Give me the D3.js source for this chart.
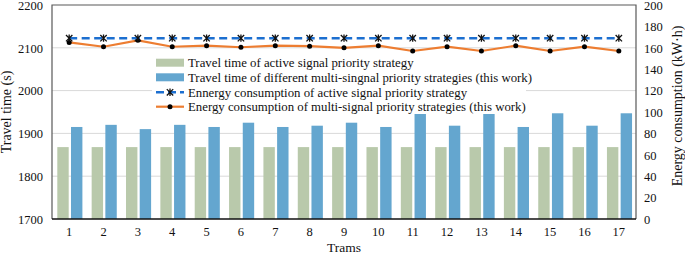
<!DOCTYPE html>
<html><head><meta charset="utf-8">
<script src="https://cdn.jsdelivr.net/npm/d3@7"></script>
<style>body{margin:0;background:#fff;} svg{display:block;} svg text{font-family:"Liberation Serif","Times New Roman",serif !important;}</style>
</head><body><svg id="c" width="685" height="255"></svg>
<script>
const trams = ["1","2","3","4","5","6","7","8","9","10","11","12","13","14","15","16","17"];
const travelActive = [1868,1868,1868,1868,1868,1868,1868,1868,1868,1868,1868,1868,1868,1868,1868,1868,1868];
const travelMulti = [1915,1920,1910,1920,1915,1925,1915,1918,1925,1915,1947,1918,1947,1915,1947,1918,1947];
const energyActive = [169,169,169,169,169,169,169,169,169,169,169,169,169,169,169,169,169];
const energyMulti = [165,161,167,161,162,160.5,162,161.5,160,162,157,161,157,162,157,161,157];
const leftTicks = [1700,1800,1900,2000,2100,2200];
const rightTicks = [0,20,40,60,80,100,120,140,160,180,200];
const legendLabels = ["Travel time of active signal priority strategy","Travel time of different multi-singnal priority strategies (this work)","Ennergy consumption of active signal priority strategy","Energy consumption of multi-signal priority strategies (this work)"];

const svg = d3.select("#c");
const L=52,R=636,T=5,B=219;
const x = d3.scaleBand().domain(trams).range([L,R]);
const yL = d3.scaleLinear().domain([1700,2200]).range([B,T]);
const yR = d3.scaleLinear().domain([0,200]).range([B,T]);
const cGreen="#b9c9ab", cBlue="#64a6cf", cOrange="#ed7d31", cDash="#1c6fd0";

svg.append("g").selectAll("line").data(leftTicks.slice(1,-1)).join("line")
  .attr("x1",L).attr("x2",R).attr("y1",d=>yL(d)).attr("y2",d=>yL(d))
  .attr("stroke","#d9d9d9").attr("stroke-width",1);

const bw=11.4, off=5.3, gap=2.3;
svg.append("g").selectAll("rect").data(trams).join("rect")
  .attr("x",d=>x(d)+off).attr("width",bw)
  .attr("y",(d,i)=>yL(travelActive[i])).attr("height",(d,i)=>B-yL(travelActive[i]))
  .attr("fill",cGreen);
svg.append("g").selectAll("rect").data(trams).join("rect")
  .attr("x",d=>x(d)+off+bw+gap).attr("width",bw)
  .attr("y",(d,i)=>yL(travelMulti[i])).attr("height",(d,i)=>B-yL(travelMulti[i]))
  .attr("fill",cBlue);

const lg = svg.append("g");
lg.append("rect").attr("x",152).attr("y",54).attr("width",374).attr("height",60).attr("fill","#fff");
const ly=[62.7,77.3,92.3,106.7];
lg.append("rect").attr("x",156).attr("y",ly[0]-4).attr("width",28).attr("height",8).attr("fill",cGreen);
lg.append("rect").attr("x",156).attr("y",ly[1]-4).attr("width",28).attr("height",8).attr("fill",cBlue);
lg.append("line").attr("x1",156).attr("x2",184).attr("y1",ly[2]).attr("y2",ly[2]).attr("stroke",cDash).attr("stroke-width",2.5).attr("stroke-dasharray","8,4");
lg.append("line").attr("x1",156).attr("x2",184).attr("y1",ly[3]).attr("y2",ly[3]).attr("stroke",cOrange).attr("stroke-width",2.2);
function star(g,cx,cy){const s=3.2;
  g.append("path").attr("d",`M${cx-s},${cy-s}L${cx+s},${cy+s}M${cx-s},${cy+s}L${cx+s},${cy-s}M${cx},${cy-s-0.5}L${cx},${cy+s+0.5}`)
   .attr("stroke","#111").attr("stroke-width",1.3).attr("fill","none");}
star(lg,170,ly[2]);
lg.append("circle").attr("cx",170).attr("cy",ly[3]).attr("r",2.5).attr("fill","#000");
lg.selectAll("text").data(legendLabels).join("text")
  .attr("x",188).attr("y",(d,i)=>ly[i]).attr("dy","0.35em").attr("font-size",12.8).attr("fill","#111").text(d=>d);

const cx = d=>x(d)+x.bandwidth()/2;
svg.append("path").datum(trams).attr("fill","none").attr("stroke",cOrange).attr("stroke-width",2.2)
  .attr("d",d3.line().x(d=>cx(d)).y((d,i)=>yR(energyMulti[i])));
svg.append("g").selectAll("circle").data(trams).join("circle")
  .attr("cx",d=>cx(d)).attr("cy",(d,i)=>yR(energyMulti[i])).attr("r",2.5).attr("fill","#000");
svg.append("path").datum(trams).attr("fill","none").attr("stroke",cDash).attr("stroke-width",2.5).attr("stroke-dasharray","8,4.5")
  .attr("d",d3.line().x(d=>cx(d)).y((d,i)=>yR(energyActive[i])));
const sg=svg.append("g");
trams.forEach((d,i)=>star(sg,cx(d),yR(energyActive[i])));

svg.append("path").attr("d",`M${L},${B}L${L},${T}L${R},${T}L${R},${B}`).attr("fill","none").attr("stroke","#595959").attr("stroke-width",1.2);
svg.append("line").attr("x1",L).attr("x2",R).attr("y1",B).attr("y2",B).attr("stroke","#111").attr("stroke-width",1.5);

const axL = d3.axisLeft(yL).tickValues(leftTicks).tickFormat(d3.format("d")).tickSize(0).tickPadding(9);
const gL = svg.append("g").attr("transform",`translate(${L},0)`).call(axL);
const axR = d3.axisRight(yR).tickValues(rightTicks).tickFormat(d3.format("d")).tickSize(0).tickPadding(8);
const gR = svg.append("g").attr("transform",`translate(${R},0)`).call(axR);
const axB = d3.axisBottom(x).tickSize(0).tickPadding(8);
const gB = svg.append("g").attr("transform",`translate(0,${B})`).call(axB);
[gL,gR,gB].forEach(g=>{g.select(".domain").remove();
  g.selectAll("text").attr("font-size",12.5).attr("fill","#111");});
gL.selectAll("text").attr("dy","0.34em");
gR.selectAll("text").attr("dy","0.34em");

svg.append("text").attr("transform","translate(11,112) rotate(-90)").attr("text-anchor","middle")
  .attr("font-size",14).attr("fill","#111").text("Travel time (s)");
svg.append("text").attr("transform","translate(677,106) rotate(-90)").attr("text-anchor","middle").attr("dy","0.35em")
  .attr("font-size",14).attr("fill","#111").text("Energy consumption (kW·h)");
svg.append("text").attr("x",344).attr("y",251.5).attr("text-anchor","middle")
  .attr("font-size",13.5).attr("fill","#111").text("Trams");
</script></body></html>
